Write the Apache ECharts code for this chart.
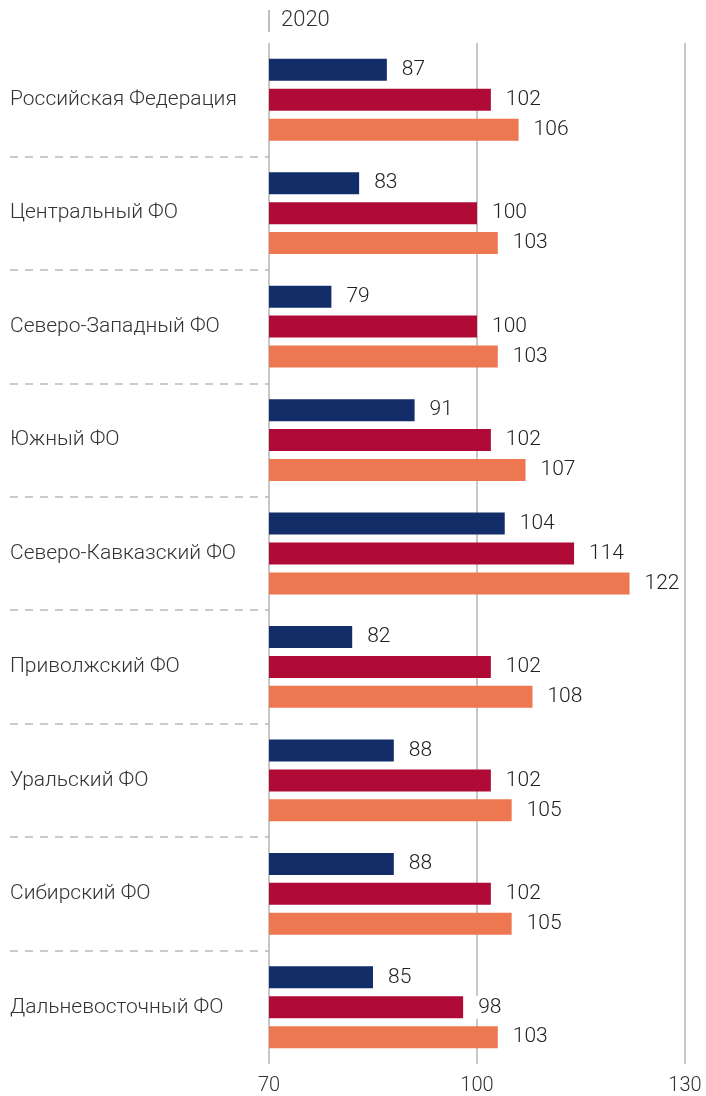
<!DOCTYPE html>
<html><head><meta charset="utf-8">
<script src="https://cdn.jsdelivr.net/npm/echarts@6/dist/echarts.min.js"></script>
<style>html,body{margin:0;padding:0;background:#fff}#c{width:706px;height:1096px}</style>
</head><body><div id="c"></div>
<script>
const categories = ['Российская Федерация','Центральный ФО','Северо-Западный ФО','Южный ФО','Северо-Кавказский ФО','Приволжский ФО','Уральский ФО','Сибирский ФО','Дальневосточный ФО'];
const seriesA = [87, 83, 79, 91, 104, 82, 88, 88, 85];
const seriesB = [102, 100, 100, 102, 114, 102, 102, 102, 98];
const seriesC = [106, 103, 103, 107, 122, 108, 105, 105, 103];
const xTicks = [70, 100, 130];
const headerText = '2020';

const FONT = 'Roboto';
const colors = ['#132d69', '#b00b37', '#ed7750'];
const chart = echarts.init(document.getElementById('c'), null, {renderer: 'canvas'});
function mkSeries(data, color) {
  return {
    type: 'bar', xAxisIndex: 0, yAxisIndex: 0, data: data,
    barWidth: 22, barGap: '36%',
    itemStyle: {color: color},
    label: {show: true, position: 'right', distance: 12, color: '#222', fontFamily: FONT, fontWeight: 300, fontSize: 21,
      backgroundColor: '#fff', padding: [1, 3]}
  };
}
chart.setOption({
  animation: false,
  grid: [
    {left: 269, right: 21, top: 43, bottom: 32},
    {left: 10, width: 259, top: 43, bottom: 32}
  ],
  title: {text: headerText, left: 276, top: 4,
    textStyle: {fontFamily: FONT, fontWeight: 300, fontSize: 22, color: '#333'}},
  graphic: [
    {type: 'line', shape: {x1: 269, y1: 10, x2: 269, y2: 32}, style: {stroke: '#aaa', lineWidth: 1.5}}
  ],
  xAxis: [
    {gridIndex: 0, type: 'value', min: xTicks[0], max: xTicks[xTicks.length - 1], interval: 30,
      axisLine: {show: false}, axisTick: {show: false},
      axisLabel: {color: '#333', fontFamily: FONT, fontWeight: 300, fontSize: 20, margin: 12},
      splitLine: {show: true, lineStyle: {color: '#b5b5b5', width: 1.5}}},
    {gridIndex: 1, type: 'value', show: false, min: 0, max: 1}
  ],
  yAxis: [
    {gridIndex: 0, type: 'category', data: categories, inverse: true,
      axisLine: {show: false}, axisTick: {show: false},
      axisLabel: {align: 'left', margin: 259, color: '#333', fontFamily: FONT, fontWeight: 300, fontSize: 21, padding: [4, 0, 0, 0]}},
    {gridIndex: 1, type: 'category', data: categories, inverse: true,
      axisLine: {show: false}, axisTick: {show: false}, axisLabel: {show: false},
      splitLine: {show: true, showMinLine: false, showMaxLine: false,
        lineStyle: {color: '#bbbbbb', width: 1.5, type: [8, 7]}}}
  ],
  series: [
    mkSeries(seriesA, colors[0]),
    mkSeries(seriesB, colors[1]),
    mkSeries(seriesC, colors[2])
  ]
});
</script></body></html>
